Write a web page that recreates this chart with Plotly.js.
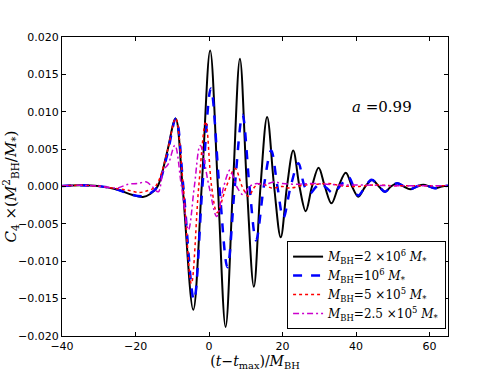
<!DOCTYPE html>
<html>
<head>
<meta charset="utf-8">
<script src="https://cdn.plot.ly/plotly-3.0.1.min.js"></script>
<style>
  body { margin: 0; background: #fff; }
  #chart { width: 498px; height: 374px; }
</style>
</head>
<body>
<div id="chart"></div>
<script>
// waveform values: time (t - t_max)/M_BH and C4 * (M_BH^2/M_*)

// M_BH = 2e6
const tBlack = [-40, -35, -30, -25, -21, -18, -16, -14, -11.5, -9.1, -7.2, -4.3, -2.0, 0.3, 2.4, 4.5, 6.5, 8.4, 10.3, 12.2, 14.0, 15.8, 17.7, 19.5, 21.2, 22.9, 24.6, 26.3, 28.0, 29.8, 31.5, 33.3, 35.2, 37.2, 38.9, 40.6, 42.5, 44.4, 46.2, 47.9, 49.5, 51.2, 53.0, 54.7, 56.5, 58.3, 60.0, 61.5, 63.3, 65];
const yBlack = [0.00008, 0.00016, 0.00005, -0.0004, -0.0011, -0.0014, -0.0010, 0.0, 0.0044, 0.0091, 0.0, -0.0165, 0.0, 0.0182, 0.0, -0.0188, 0.0, 0.0171, 0.0, -0.0134, 0.0, 0.0093, 0.0, -0.0068, 0.0, 0.0048, 0.0, -0.0033, 0.0, 0.0025, 0.0, -0.00225, 0.0, 0.00185, 0.0, -0.00136, 0.0, 0.00087, 0.0, -0.0007, 0.0, 0.00043, 0.0, -0.00037, 0.0, 0.00024, 0.0, -0.00024, 0.0, 0.0001];

// M_BH = 1e6
const tBlue = [-40, -35, -30, -25, -21, -18, -16, -14, -11.5, -9.0, -7.0, -4.1, -1.8, 0.5, 2.8, 5.0, 7.0, 9.1, 11.0, 12.8, 14.9, 16.9, 18.6, 20.2, 22.2, 24.3, 26.0, 27.5, 29.0, 30.2, 32.0, 33.8, 36.0, 37.9, 39.3, 40.6, 42.5, 44.2, 46.2, 47.9, 49.5, 51.2, 53.0, 54.7, 56.5, 58.3, 60.0, 61.5, 63.3, 65];
const yBlue = [0.00008, 0.00016, 0.00005, -0.0004, -0.0011, -0.0013, -0.0009, 0.0, 0.0040, 0.0091, 0.0, -0.0152, 0.0, 0.0131, 0.0, -0.0108, 0.0, 0.0096, 0.0, -0.0072, 0.0, 0.0048, 0.0, -0.0042, 0.0, 0.0031, 0.0, -0.0009, -0.0001, 0.0004, -0.0002, -0.0009, 0.0003, 0.0013, 0.0, -0.0012, 0.0, 0.0009, 0.0, -0.0007, 0.0, 0.00043, 0.0, -0.00037, 0.0, 0.00024, 0.0, -0.00024, 0.0, 0.0001];

// M_BH = 5e5
const tRed = [-40, -35, -30, -25, -22, -19, -17, -15, -13.5, -11.2, -9.1, -7.0, -4.8, -2.8, -0.9, 0.7, 2.2, 4.7, 7.1, 9.0, 10.7, 12.5, 14.3, 17, 20, 22, 26, 29, 32.5, 36, 40, 45, 50, 55, 60, 65];
const yRed = [0.00008, 0.00016, 0.00005, -0.0003, -0.0005, -0.0008, -0.0006, -0.0002, 0.0010, 0.0050, 0.0091, 0.0, -0.0130, 0.0, 0.0087, 0.0, -0.0035, 0.0, 0.0024, 0.0, -0.0013, 0.0, 0.0004, -0.0002, 0.0, -0.0002, 0.0002, 0.0003, 0.0004, 0.0001, 0.0, 0.0002, 0.0001, 0.0001, 0.0001, 0.0001];

// M_BH = 2.5e5
const tMag = [-40, -35, -30, -25, -22, -19.5, -17, -15.5, -13.8, -12.4, -11.1, -9.3, -7.5, -5.6, -4.0, -2.4, 0.0, 2.1, 4.0, 5.7, 7.5, 9.3, 11, 13, 15, 17.5, 20, 24, 28, 32, 36, 42, 50, 65];
const yMag = [0.00008, 0.00016, 0.00005, -0.0002, 0.0003, 0.0004, 0.0006, 0.0, -0.0007, 0.0022, 0.0030, 0.0055, 0.0, -0.0058, 0.0, 0.0055, 0.0, -0.0040, 0.0, 0.0022, 0.0, -0.0011, 0.0, 0.0004, 0.0002, 0.0006, 0.0004, 0.0003, 0.0004, 0.0003, 0.0002, 0.0002, 0.0001, 0.0001];

const legendNames = [
  '<i>M</i><sub>BH</sub>=2 ×10<sup>6</sup> <i>M</i><sub>*</sub>',
  '<i>M</i><sub>BH</sub>=10<sup>6</sup> <i>M</i><sub>*</sub>',
  '<i>M</i><sub>BH</sub>=5 ×10<sup>5</sup> <i>M</i><sub>*</sub>',
  '<i>M</i><sub>BH</sub>=2.5 ×10<sup>5</sup> <i>M</i><sub>*</sub>'
];

const yTicks = [-0.02, -0.015, -0.01, -0.005, 0, 0.005, 0.01, 0.015, 0.02];
const xTicks = [-40, -20, 0, 20, 40, 60];

const serif = 'DejaVu Serif, serif';
const sans = 'DejaVu Sans, sans-serif';

function trace(x, y, name, color, dash, width) {
  return {
    x: x, y: y, name: name, type: 'scatter', mode: 'lines',
    line: { color: color, dash: dash, width: width, shape: 'spline', smoothing: 1 }
  };
}

const traces = [
  trace(tBlack, yBlack, legendNames[0], '#000000', 'solid', 2),
  trace(tBlue, yBlue, legendNames[1], '#0000ff', 'dash', 2.5),
  trace(tRed, yRed, legendNames[2], '#ff0000', 'dot', 1.5),
  trace(tMag, yMag, legendNames[3], '#cc00cc', '6px,3px,2px,3px', 1.5)
];

const axisCommon = {
  showline: true, linecolor: '#000', linewidth: 1, mirror: 'ticks',
  ticks: 'inside', ticklen: 4, tickcolor: '#000', showgrid: false, zeroline: false,
  tickfont: { family: sans, size: 11, color: '#000' }
};

const layout = {
  width: 498, height: 374,
  margin: { l: 62, r: 50, t: 37, b: 38 },
  paper_bgcolor: '#fff', plot_bgcolor: '#fff',
  showlegend: true,
  xaxis: Object.assign({}, axisCommon, {
    range: [-40, 65], tickvals: xTicks,
    title: { text: '(<i>t</i>−<i>t</i><sub>max</sub>)/<i>M</i><sub>BH</sub>', font: { family: serif, size: 14, color: '#000' }, standoff: 2 }
  }),
  yaxis: Object.assign({}, axisCommon, {
    range: [-0.02, 0.02], tickvals: yTicks, tickformat: '.3f',
    title: { text: '<i>C</i><sub>4</sub> ×(<i>M</i><sup>2</sup><sub>BH</sub>/<i>M</i><sub>*</sub>)', font: { family: serif, size: 15, color: '#000' }, standoff: 4 }
  }),
  legend: {
    x: 0.995, y: 0.023, xanchor: 'right', yanchor: 'bottom',
    bordercolor: '#000', borderwidth: 1, bgcolor: '#fff',
    font: { family: serif, size: 12, color: '#000' },
    itemwidth: 30, tracegroupgap: 0
  },
  annotations: [{
    x: 47, y: 0.0106, xref: 'x', yref: 'y', showarrow: false,
    text: '<i>a</i> =0.99', font: { family: serif, size: 15, color: '#000' }
  }]
};

Plotly.newPlot('chart', traces, layout, { displayModeBar: false, staticPlot: true });
</script>
</body>
</html>
